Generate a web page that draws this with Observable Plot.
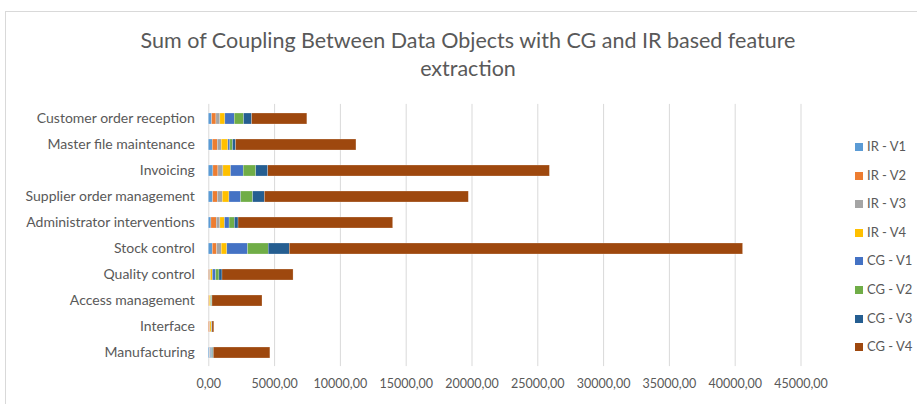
<!DOCTYPE html>
<html>
<head>
<meta charset="utf-8">
<script src="https://cdn.jsdelivr.net/npm/d3@7"></script>
<script src="https://cdn.jsdelivr.net/npm/@observablehq/plot@0.6"></script>
<style>
  html, body { margin: 0; padding: 0; background: #fff; }
  body { width: 917px; height: 404px; position: relative; overflow: hidden; font-family: Lato, "Open Sans", sans-serif; }
  #frame { position: absolute; left: 5px; top: 11px; width: 1000px; height: 500px; border: 1px solid #d9d9d9; box-sizing: border-box; }
  #title { position: absolute; left: 0; width: 936px; top: 26px; text-align: center; font-size: 21.5px; line-height: 28px; color: #595959; }
  #chart { position: absolute; left: 0; top: 95px; }
  #legend { position: absolute; left: 855px; top: 0; }
  .item { position: absolute; left: 0; white-space: nowrap; font-size: 13px; color: #595959; line-height: 14px; }
  .sw { display: inline-block; width: 8px; height: 8px; margin-right: 4px; vertical-align: 0px; }
</style>
</head>
<body>
<div id="frame"></div>
<div id="title">Sum of Coupling Between Data Objects with CG and IR based feature<br>extraction</div>
<div id="chart"></div>
<div id="legend"></div>
<script>
const categories = ["Customer order reception", "Master file maintenance", "Invoicing", "Supplier order management", "Administrator interventions", "Stock control", "Quality control", "Access management", "Interface", "Manufacturing"];
const series = ["IR - V1", "IR - V2", "IR - V3", "IR - V4", "CG - V1", "CG - V2", "CG - V3", "CG - V4"];
const colors = ["#5B9BD5", "#ED7D31", "#A5A5A5", "#FFC000", "#4472C4", "#70AD47", "#255E91", "#9E480E"];
const irV1 = [250, 300, 350, 330, 200, 300, 20, 20, 10, 100];
const irV2 = [330, 380, 380, 350, 400, 330, 80, 40, 100, 20];
const irV3 = [300, 300, 380, 380, 280, 350, 60, 20, 20, 20];
const irV4 = [380, 510, 580, 510, 350, 430, 150, 80, 100, 20];
const cgV1 = [710, 150, 960, 890, 350, 1570, 250, 20, 10, 100];
const cgV2 = [710, 200, 960, 910, 400, 1570, 250, 80, 10, 60];
const cgV3 = [610, 230, 910, 890, 280, 1600, 230, 20, 30, 60];
const cgV4 = [4200, 9150, 21400, 15500, 11750, 34450, 5400, 3800, 140, 4300];
const xTicks = [0, 5000, 10000, 15000, 20000, 25000, 30000, 35000, 40000, 45000];

const seriesValues = [irV1, irV2, irV3, irV4, cgV1, cgV2, cgV3, cgV4];
const data = [];
categories.forEach((c, i) => {
  series.forEach((s, j) => data.push({category: c, series: s, value: seriesValues[j][i]}));
});

const W = 917, H = 309;
const chart = Plot.plot({
  width: W,
  height: H,
  marginLeft: 208.3,
  marginRight: 116.5,
  marginTop: 8.9,
  marginBottom: 37.9,
  style: {fontFamily: "Lato, 'Open Sans', sans-serif", color: "#595959", background: "transparent"},
  x: {domain: [0, 45000], ticks: xTicks, label: null},
  y: {domain: categories, paddingInner: 0.59, paddingOuter: 0.295, label: null},
  color: {domain: series, range: colors},
  marks: [
    Plot.gridX(xTicks, {stroke: "#d9d9d9", strokeOpacity: 1, strokeWidth: 1}),
    Plot.barX(data, Plot.stackX({x: "value", y: "category", fill: "series", order: series, stroke: "#fff", strokeWidth: 0.4, strokeOpacity: 0.6})),
    Plot.axisX(xTicks, {tickSize: 0, tickPadding: 13, fontSize: 12.5, fill: "#595959", tickFormat: d => d.toFixed(2).replace(".", ","), label: null}),
    Plot.axisY({tickSize: 0, tickPadding: 14, fontSize: 14, fill: "#595959", label: null})
  ]
});
document.getElementById("chart").appendChild(chart);

const legend = document.getElementById("legend");
series.forEach((s, i) => {
  const d = document.createElement("div");
  d.className = "item";
  d.style.top = (146 + i * 28.6 - 7) + "px";
  d.innerHTML = `<span class="sw" style="background:${colors[i]}"></span>${s}`;
  legend.appendChild(d);
});
</script>
</body>
</html>
